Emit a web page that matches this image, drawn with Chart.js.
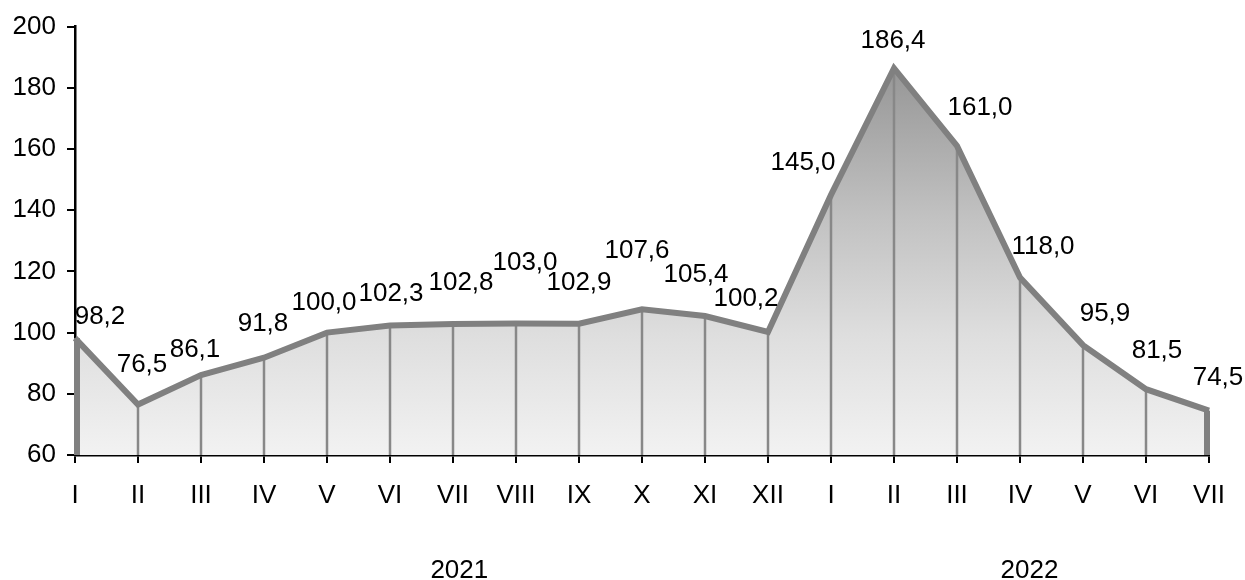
<!DOCTYPE html>
<html>
<head>
<meta charset="utf-8">
<script src="https://cdn.jsdelivr.net/npm/chart.js@4/dist/chart.umd.min.js"></script>
<style>
html,body{margin:0;padding:0;background:#fff;}
#wrap{width:1245px;height:580px;position:relative;}
</style>
</head>
<body>
<div id="wrap"><canvas id="c" width="1245" height="580"></canvas></div>
<script>
const categories = ["I","II","III","IV","V","VI","VII","VIII","IX","X","XI","XII","I","II","III","IV","V","VI","VII"];
const values = [98.2,76.5,86.1,91.8,100.0,102.3,102.8,103.0,102.9,107.6,105.4,100.2,145.0,186.4,161.0,118.0,95.9,81.5,74.5];
const valueLabels = ["98,2","76,5","86,1","91,8","100,0","102,3","102,8","103,0","102,9","107,6","105,4","100,2","145,0","186,4","161,0","118,0","95,9","81,5","74,5"];
const years = ["2021","2022"];
const yTicks = {min:60, max:200, step:20};

// label placement offsets (style only): [dx, dy] from the point
const labelOffsets = [[25,-21],[4,-40],[-6,-25],[-1,-34],[-3,-30],[1,-32],[8,-41],[9,-61],[0,-41],[-5,-59],[-9,-41],[-22,-33],[-28,-32],[-1,-27],[23,-38],[23,-31],[22,-31],[11,-38],[9,-33]];
// year label positions along the category axis (fractional index)
const yearPos = [6.1, 15.15];

const FONT = "'Liberation Sans', Arial, sans-serif";
const FS = 26;

const overlay = {
  id:'overlay',
  beforeDatasetsDraw(chart){
    const ctx = chart.ctx, y = chart.scales.y;
    const meta = chart.getDatasetMeta(0);
    const bottom = y.getPixelForValue(yTicks.min);
    ctx.save();
    meta.data.forEach((pt,i)=>{
      const end = (i===0 || i===meta.data.length-1);
      ctx.beginPath();
      ctx.strokeStyle = end ? '#808080' : '#888888';
      ctx.lineWidth = end ? 6 : 2.5;
      const px = end ? (i===0 ? pt.x+2 : pt.x-2) : pt.x;
      ctx.moveTo(px, pt.y);
      ctx.lineTo(px, bottom);
      ctx.stroke();
    });
    ctx.restore();
  },
  afterDraw(chart){
    const ctx = chart.ctx, x = chart.scales.x;
    const meta = chart.getDatasetMeta(0);
    ctx.save();
    ctx.fillStyle = '#000';
    ctx.font = FS + 'px ' + FONT;
    ctx.textAlign = 'center';
    ctx.textBaseline = 'middle';
    meta.data.forEach((pt,i)=>{
      const o = labelOffsets[i];
      ctx.fillText(valueLabels[i], pt.x + o[0], pt.y + o[1]);
    });
    years.forEach((yr,i)=>{
      ctx.fillText(yr, x.getPixelForValue(yearPos[i]), 571);
    });
    ctx.restore();
  }
};

const ctx = document.getElementById('c').getContext('2d');
new Chart(ctx, {
  type:'line',
  data:{
    labels:categories,
    datasets:[{
      data:values,
      borderColor:'#808080',
      borderWidth:6,
      borderJoinStyle:'miter',
      pointRadius:0,
      tension:0,
      fill:'start',
      backgroundColor:(c)=>{
        const ca = c.chart.chartArea;
        if(!ca) return '#ddd';
        const g = c.chart.ctx.createLinearGradient(0, ca.top, 0, ca.bottom);
        g.addColorStop(0, '#8a8a8a');
        g.addColorStop(0.45, '#c2c2c2');
        g.addColorStop(0.72, '#dedede');
        g.addColorStop(1, '#f2f2f2');
        return g;
      }
    }]
  },
  options:{
    responsive:false,
    animation:false,
    layout:{padding:{top:25,right:36,left:0,bottom:0}},
    plugins:{
      legend:{display:false},
      tooltip:{enabled:false},
      filler:{drawTime:'beforeDatasetsDraw'}
    },
    scales:{
      x:{
        offset:false,
        afterFit(s){ s.height = 125; },
        grid:{display:true, drawOnChartArea:false, drawTicks:true, tickLength:8, color:'#000', lineWidth:2},
        border:{display:true, color:'#000', width:2.5},
        ticks:{color:'#000', font:{family:FONT, size:FS}, maxRotation:0, autoSkip:false, padding:17}
      },
      y:{
        min:yTicks.min, max:yTicks.max,
        afterFit(s){ s.width = 75; },
        grid:{display:true, drawOnChartArea:false, drawTicks:true, tickLength:8, color:'#000', lineWidth:2},
        border:{display:true, color:'#000', width:2.5},
        ticks:{stepSize:yTicks.step, color:'#000', font:{family:FONT, size:FS}, padding:11}
      }
    }
  },
  plugins:[overlay]
});
</script>
</body>
</html>
